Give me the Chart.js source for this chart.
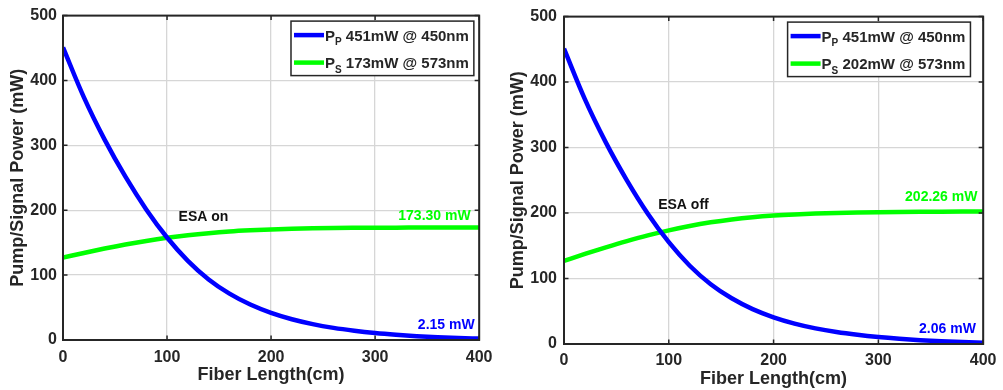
<!DOCTYPE html>
<html>
<head>
<meta charset="utf-8">
<script src="https://cdn.jsdelivr.net/npm/chart.js@4.4.1/dist/chart.umd.min.js"></script>
<style>
  html, body { margin: 0; padding: 0; background: #fff; }
  #wrap { position: relative; width: 1003px; height: 390px; overflow: hidden; }
  .panel { position: absolute; top: 0; height: 390px; }
</style>
</head>
<body>
<div id="wrap">
  <div class="panel" style="left:0;width:500px"><canvas id="esaOn" width="500" height="390"></canvas></div>
  <div class="panel" style="left:500px;width:503px"><canvas id="esaOff" width="503" height="390"></canvas></div>
</div>
<script>
// Fiber position (cm)
const fiberLength = [0, 20, 40, 60, 80, 100, 120, 140, 160, 180, 200, 220, 240, 260, 280, 300, 320, 340, 360, 380, 400];

// ESA on: pump and signal power (mW)
const pumpEsaOn   = [451, 374.3, 308.8, 251.7, 201.3, 158.0, 122.0, 93.3, 71.4, 54.6, 41.8, 32.0, 24.5, 18.7, 14.3, 10.8, 8.1, 5.95, 4.3, 3.05, 2.15];
const signalEsaOn = [127, 134.2, 141.0, 147.2, 152.7, 157.5, 161.5, 164.7, 167.2, 169.0, 170.4, 171.4, 172.1, 172.6, 172.9, 173.1, 173.2, 173.25, 173.28, 173.3, 173.3];

// ESA off: pump and signal power (mW)
const pumpEsaOff   = [451, 373.5, 307.5, 250, 199, 155.5, 119.5, 91.3, 69.8, 53.3, 40.8, 31.2, 23.9, 18.3, 14.0, 10.6, 7.95, 5.85, 4.2, 2.95, 2.06];
const signalEsaOff = [127, 137.5, 147.5, 157, 165.8, 173.6, 180.3, 185.8, 190.2, 193.6, 196.1, 197.9, 199.2, 200.1, 200.8, 201.3, 201.65, 201.9, 202.08, 202.2, 202.26];

// Axis ticks
const xTicks = [0, 100, 200, 300, 400];
const yTicks = [0, 100, 200, 300, 400, 500];

// Legend text
const legendSubs = ['P', 'S'];
const legendEsaOn  = ['451mW @ 450nm', '173mW @ 573nm'];
const legendEsaOff = ['451mW @ 450nm', '202mW @ 573nm'];

// Text notes
const noteEsaOn  = 'ESA on';
const noteEsaOff = 'ESA off';

const FONT = '"Liberation Sans", Arial, Helvetica, sans-serif';
const INK = '#262626';
const BLUE = '#0000ff';
const GREEN = '#00ff00';

Chart.defaults.font.family = FONT;
Chart.defaults.font.weight = 'bold';
Chart.defaults.color = INK;

// Axes box with inward ticks, legend box and text notes
const matlabFrame = {
  id: 'matlabFrame',
  afterDatasetsDraw(chart, args, opts) {
    const { ctx, chartArea: a, scales: { x, y } } = chart;
    ctx.save();

    // text notes anchored in data space
    ctx.font = 'bold 14px ' + FONT;
    ctx.textBaseline = 'middle';
    opts.notes.forEach(n => {
      ctx.fillStyle = n.color;
      ctx.textAlign = n.align;
      ctx.fillText(n.text, x.getPixelForValue(n.x) + (n.dx || 0), y.getPixelForValue(n.y) + (n.dy || 0));
    });

    // axes box
    ctx.strokeStyle = INK;
    ctx.lineWidth = 2;
    ctx.strokeRect(a.left, a.top, a.width, a.height);
    ctx.lineWidth = 1.5;
    ctx.beginPath();
    const tl = 4.5;
    xTicks.forEach(v => {
      const px = x.getPixelForValue(v);
      ctx.moveTo(px, a.bottom); ctx.lineTo(px, a.bottom - tl);
      ctx.moveTo(px, a.top); ctx.lineTo(px, a.top + tl);
    });
    yTicks.forEach(v => {
      const py = y.getPixelForValue(v);
      ctx.moveTo(a.left, py); ctx.lineTo(a.left + tl, py);
      ctx.moveTo(a.right, py); ctx.lineTo(a.right - tl, py);
    });
    ctx.stroke();

    // legend
    const lg = opts.legend;
    const mainFont = 'bold 15px ' + FONT;
    const subFont = 'bold 10px ' + FONT;
    let textW = 0;
    lg.items.forEach(it => {
      ctx.font = mainFont;
      let w = ctx.measureText('P').width + ctx.measureText(' ' + it.text).width;
      ctx.font = subFont;
      w += ctx.measureText(it.sub).width;
      textW = Math.max(textW, w);
    });
    const boxW = 34 + textW + 5;
    const boxH = 54.5;
    const bx = a.right - lg.inset - boxW;
    const by = a.top + lg.top;
    ctx.fillStyle = '#fff';
    ctx.fillRect(bx, by, boxW, boxH);
    ctx.strokeStyle = INK;
    ctx.lineWidth = 1.5;
    ctx.strokeRect(bx, by, boxW, boxH);
    lg.items.forEach((it, i) => {
      const ry = by + 14 + i * 27.5;
      ctx.strokeStyle = it.color;
      ctx.lineWidth = 4.5;
      ctx.beginPath();
      ctx.moveTo(bx + 3, ry);
      ctx.lineTo(bx + 33, ry);
      ctx.stroke();
      ctx.fillStyle = INK;
      ctx.textAlign = 'left';
      ctx.textBaseline = 'alphabetic';
      let tx = bx + 34;
      ctx.font = mainFont;
      ctx.fillText('P', tx, ry + 5.5);
      tx += ctx.measureText('P').width;
      ctx.font = subFont;
      ctx.fillText(it.sub, tx, ry + 10);
      tx += ctx.measureText(it.sub).width;
      ctx.font = mainFont;
      ctx.fillText(' ' + it.text, tx, ry + 5.5);
    });
    ctx.restore();
  }
};

function points(ys) {
  return fiberLength.map((v, i) => ({ x: v, y: ys[i] }));
}

function makeChart(id, pump, signal, legendText, note, geo) {
  const last = a => a[a.length - 1];
  return new Chart(document.getElementById(id), {
    type: 'line',
    data: {
      datasets: [
        { data: points(pump), borderColor: BLUE, borderWidth: 4.5, pointRadius: 0, cubicInterpolationMode: 'monotone', fill: false },
        { data: points(signal), borderColor: GREEN, borderWidth: 4.5, pointRadius: 0, cubicInterpolationMode: 'monotone', fill: false }
      ]
    },
    options: {
      responsive: false,
      animation: false,
      events: [],
      layout: { padding: { top: geo.top, right: geo.right, left: 0, bottom: 0 } },
      plugins: {
        legend: { display: false },
        tooltip: { enabled: false },
        matlabFrame: {
          legend: {
            inset: geo.legendInset, top: 5.5,
            items: [
              { color: BLUE, sub: legendSubs[0], text: legendText[0] },
              { color: GREEN, sub: legendSubs[1], text: legendText[1] }
            ]
          },
          notes: [
            { text: note.text, x: note.x, y: note.y, color: '#111', align: 'center' },
            { text: last(signal).toFixed(2) + ' mW', x: 400, y: last(signal), dx: geo.sigDx, dy: geo.sigDy, color: GREEN, align: 'right' },
            { text: last(pump).toFixed(2) + ' mW', x: 400, y: last(pump), dx: geo.pumpDx, dy: geo.pumpDy, color: BLUE, align: 'right' }
          ]
        }
      },
      scales: {
        x: {
          type: 'linear', min: 0, max: 400,
          afterBuildTicks: s => { s.ticks = xTicks.map(v => ({ value: v })); },
          afterFit: s => { s.height = geo.xh; },
          border: { display: false },
          grid: { color: '#d6d6d6', lineWidth: 1.3, drawTicks: false },
          ticks: { font: { size: 16, weight: 'bold' }, color: INK, padding: geo.xPad, maxRotation: 0 },
          title: { display: true, text: 'Fiber Length(cm)', font: { size: 18, weight: 'bold' }, color: INK, padding: { top: 0, bottom: geo.xTitlePad } }
        },
        y: {
          type: 'linear', min: 0, max: 500,
          afterBuildTicks: s => { s.ticks = yTicks.map(v => ({ value: v })); },
          afterFit: s => { s.width = geo.yw; },
          border: { display: false },
          grid: { color: '#d6d6d6', lineWidth: 1.3, drawTicks: false },
          ticks: { font: { size: 16, weight: 'bold' }, color: INK, padding: geo.yPad },
          title: { display: true, text: 'Pump/Signal Power (mW)', font: { size: 18, weight: 'bold' }, color: INK, padding: { top: geo.yTitlePad, bottom: 0 } }
        }
      }
    },
    plugins: [matlabFrame]
  });
}

makeChart('esaOn', pumpEsaOn, signalEsaOn, legendEsaOn,
  { text: noteEsaOn, x: 135, y: 190 },
  { top: 14, right: 18, yw: 63, xh: 50, xPad: 7.5, yPad: 6, xTitlePad: 4, yTitlePad: 7, 
    legendInset: 5.3, sigDx: -8.5, sigDy: -11, pumpDx: -4.5, pumpDy: -13 });

makeChart('esaOff', pumpEsaOff, signalEsaOff, legendEsaOff,
  { text: noteEsaOff, x: 114, y: 211.5 },
  { top: 16, right: 19, yw: 64, xh: 46, xPad: 6.5, yPad: 7, xTitlePad: 0, yTitlePad: 7.5,
    legendInset: 12.7, sigDx: -5.7, sigDy: -14, pumpDx: -7.3, pumpDy: -13.4 });
</script>
</body>
</html>
